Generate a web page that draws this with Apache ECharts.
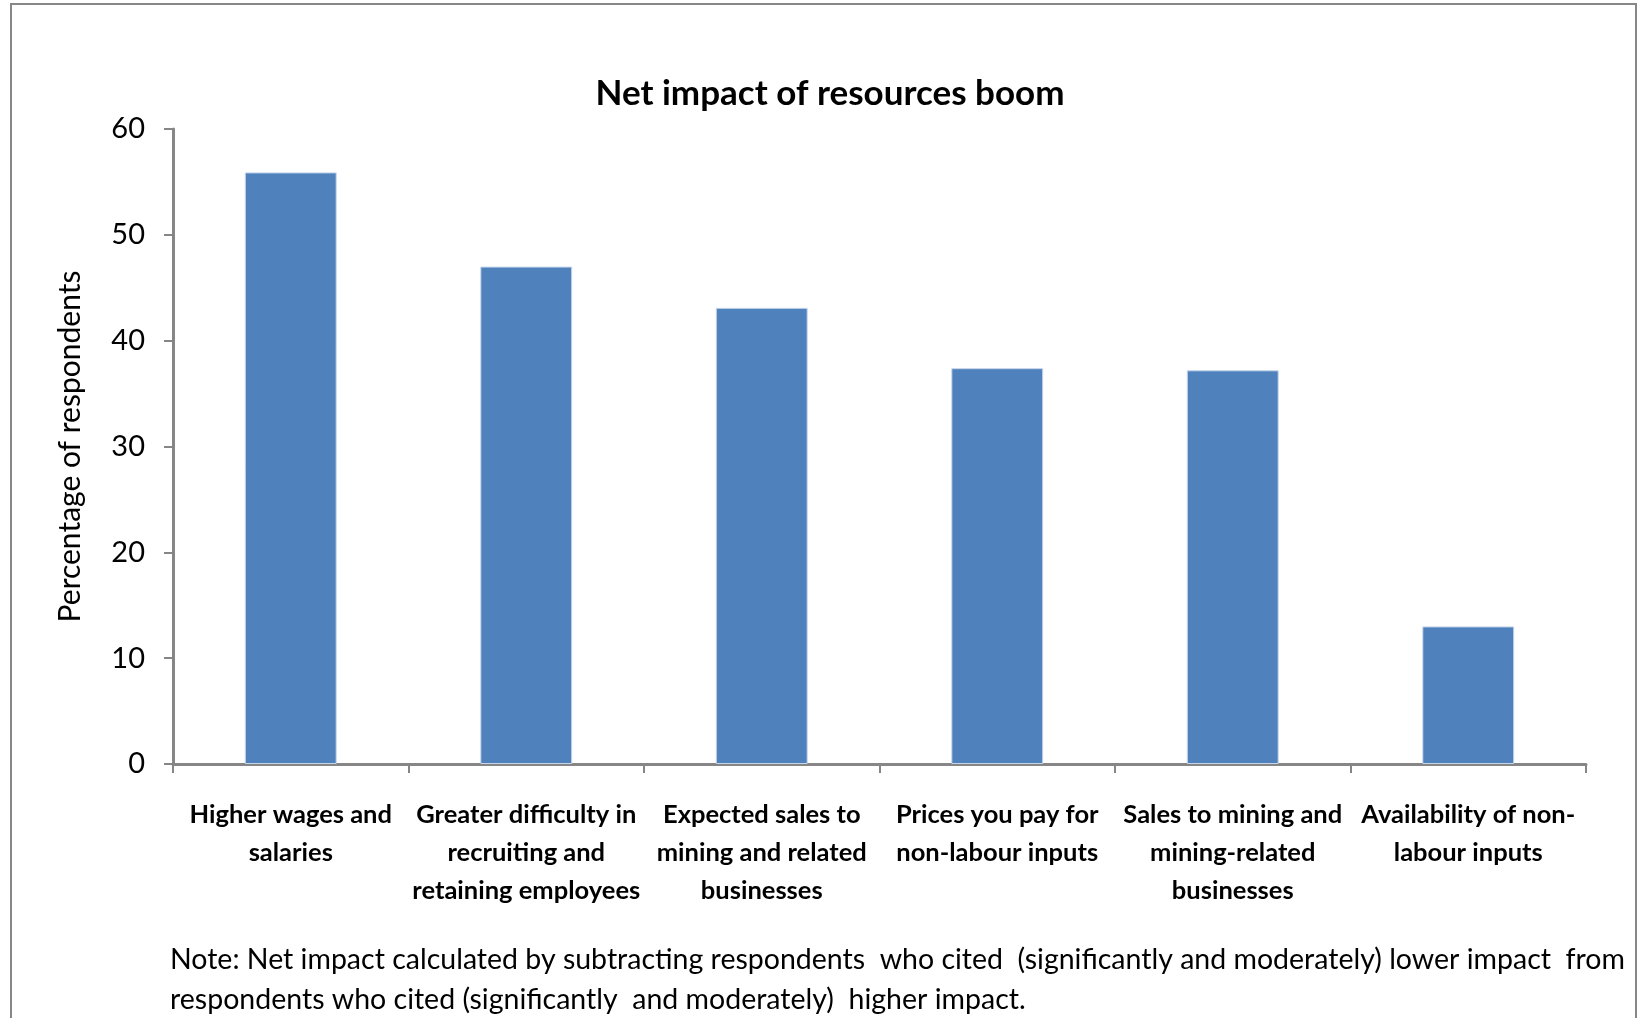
<!DOCTYPE html>
<html><head><meta charset="utf-8">
<script src="https://cdn.jsdelivr.net/npm/echarts@6/dist/echarts.min.js"></script>
<style>html,body{margin:0;padding:0;background:#fff}#c{width:1641px;height:1018px}</style>
</head><body><div id="c"></div>
<script>
const titleText = 'Net impact of resources boom';
const categories = [
  'Higher wages and\nsalaries',
  'Greater difficulty in\nrecruiting and\nretaining employees',
  'Expected sales to\nmining and related\nbusinesses',
  'Prices you pay for\nnon-labour inputs',
  'Sales to mining and\nmining-related\nbusinesses',
  'Availability of non-\nlabour inputs'
];
const values = [55.9, 47.0, 43.1, 37.4, 37.2, 13.0];
const yAxisName = 'Percentage of respondents';
const noteLines = [
  'Note: Net impact calculated by subtracting respondents  who cited  (significantly and moderately) lower impact  from',
  'respondents who cited (significantly  and moderately)  higher impact.'
];
const FONT = 'Lato';
const chart = echarts.init(document.getElementById('c'));
chart.setOption({
  backgroundColor: '#fff',
  animation: false,
  title: {
    text: titleText, left: 825, top: 71, textAlign: 'center',
    textStyle: {fontFamily: FONT, fontWeight: 'bold', fontSize: 35, color: '#000'}
  },
  grid: {left: 173, right: 55, top: 129, bottom: 254},
  xAxis: {
    type: 'category', data: categories,
    axisLine: {lineStyle: {color: '#868686', width: 3}},
    axisTick: {show: true, length: 9, lineStyle: {color: '#868686', width: 2}},
    axisLabel: {fontFamily: FONT, fontWeight: 'bold', fontSize: 25.5, color: '#000', lineHeight: 38, margin: 32, interval: 0}
  },
  yAxis: {
    type: 'value', min: 0, max: 60, interval: 10,
    name: yAxisName, nameLocation: 'middle', nameGap: 88, nameRotate: 90,
    nameTextStyle: {fontFamily: FONT, fontSize: 30, color: '#000'},
    axisLine: {show: true, lineStyle: {color: '#868686', width: 3}},
    axisTick: {show: true, inside: false, length: 9, lineStyle: {color: '#868686', width: 2}},
    axisLabel: {fontFamily: FONT, fontSize: 29, color: '#000', margin: 28},
    splitLine: {show: false}
  },
  series: [{
    type: 'bar', data: values, barWidth: '39%',
    itemStyle: {color: '#4F81BD', borderColor: '#c6d5ea', borderWidth: 1}
  }],
  graphic: [
    {type: 'rect', shape: {x: 11, y: 4, width: 1625, height: 1100}, style: {fill: 'none', stroke: '#878787', lineWidth: 2}, z: -1},
    {type: 'text', left: 170, top: 945, style: {text: noteLines[0], font: '28.5px ' + FONT, fill: '#000'}},
    {type: 'text', left: 170, top: 985, style: {text: noteLines[1], font: '28.5px ' + FONT, fill: '#000'}}
  ]
});
</script></body></html>
